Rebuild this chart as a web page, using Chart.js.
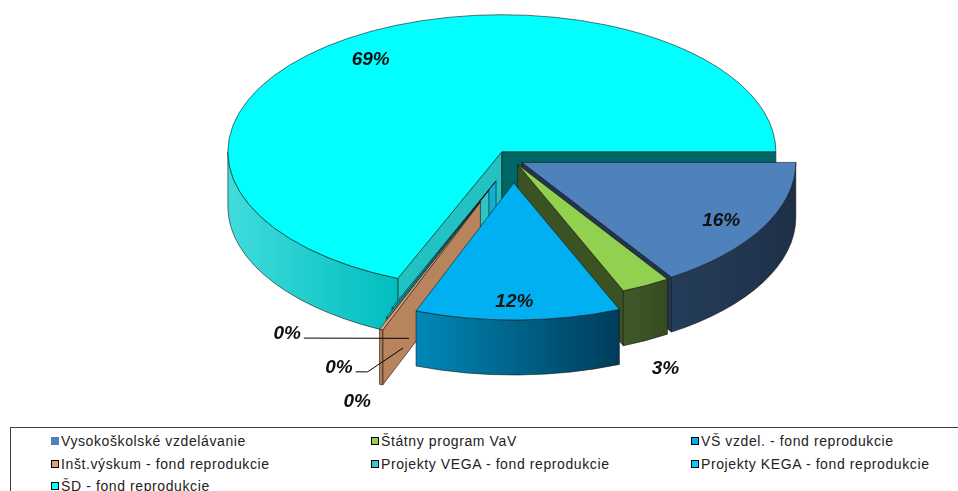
<!DOCTYPE html>
<html>
<head>
<meta charset="utf-8">
<script src="https://cdn.jsdelivr.net/npm/chart.js@4.4.0/dist/chart.umd.min.js"></script>
<style>
body { margin: 0; background: #fff; width: 958px; height: 491px; overflow: hidden; position: relative; font-family: "Liberation Sans", Arial, sans-serif; }
#pie { position: absolute; left: 0; top: 0; }
#legend { position: absolute; left: 10px; top: 427px; width: 970px; height: 80px; border: 1px solid #404040; box-sizing: border-box; }
.item { position: absolute; font-size: 14px; letter-spacing: 0.6px; color: #222; white-space: nowrap; line-height: 16px; }
.item i { display: inline-block; width: 6px; height: 6px; border: 1px solid #000; margin-right: 2px; vertical-align: 1px; }
</style>
</head>
<body>
<canvas id="pie" width="958" height="427"></canvas>
<div id="legend"></div>
<script>
// data
var labels = [
    'Vysokoškolské vzdelávanie',
    'Štátny program VaV',
    'VŠ vzdel. - fond reprodukcie',
    'Inšt.výskum - fond reprodukcie',
    'Projekty VEGA - fond reprodukcie',
    'Projekty KEGA - fond reprodukcie',
    'ŠD - fond reprodukcie'
];
var shares = [15.8, 2.9, 12.1, 0.2, 0.1, 0.1, 68.8];

// look
var topColors = ['#4F81BD', '#92D050', '#00B0F0', '#E8A070', '#33CCCC', '#00CCFF', '#00FFFF'];
var wallLight = ['#253D5A', '#40592A', '#0088B8', '#B8845E', '#2AB8B8', '#00A8C8', '#40DCDC'];
var wallDark = ['#1E3048', '#364C20', '#003C5A', '#A87450', '#229999', '#0088A8', '#00BEBE'];
var startFace = ['#22354C', '#3B5323', '#005A80', '#B8845E', '#2EC4C4', '#12B0D0', '#22C2C2'];
var endFace = ['#22354C', '#3B5323', '#004868', '#B8845E', '#1A9A9A', '#0A90B0', '#006666'];
var explode = [10, 10, 46, 90, 65, 45, 20];
var labelNudge = [[0, 0], [-6, 4], [0, 0], [-4, -8], [-28, -30], [-85, -54], [0, 0]];
var squash = 0.5;
var depth = 55;

function pt(c, a, r) {
    return [c[0] + r * Math.cos(a), c[1] + squash * r * Math.sin(a)];
}

function frontRanges(a1, a2) {
    var out = [];
    [-2 * Math.PI, 0, 2 * Math.PI].forEach(function (b) {
        var s = Math.max(a1, b), t = Math.min(a2, b + Math.PI);
        if (t > s) out.push([s, t]);
    });
    return out;
}

function drawFace(ctx, c, a, R, color) {
    var p = pt(c, a, R);
    ctx.beginPath();
    ctx.moveTo(c[0], c[1]);
    ctx.lineTo(p[0], p[1]);
    ctx.lineTo(p[0], p[1] + depth);
    ctx.lineTo(c[0], c[1] + depth);
    ctx.closePath();
    ctx.fillStyle = color;
    ctx.fill();
    ctx.stroke();
}

var pie3d = {
    id: 'pie3d',
    beforeDatasetsDraw: function (chart) {
        var ctx = chart.ctx;
        var arcs = chart.getDatasetMeta(0).data;
        var slices = arcs.map(function (arc, i) {
            var p = arc.getProps(['x', 'y', 'startAngle', 'endAngle', 'outerRadius']);
            var mid = (p.startAngle + p.endAngle) / 2;
            var c = [p.x + explode[i] * Math.cos(mid), p.y + squash * explode[i] * Math.sin(mid)];
            return { i: i, a1: p.startAngle, a2: p.endAngle, mid: mid, c: c, R: p.outerRadius };
        });
        // back to front
        var order = slices.slice().sort(function (a, b) {
            return (Math.sin(a.mid) + explode[a.i] * 0.0001) - (Math.sin(b.mid) + explode[b.i] * 0.0001);
        });
        ctx.save();
        ctx.lineWidth = 0.7;
        ctx.strokeStyle = 'rgba(20,20,20,0.85)';
        ctx.lineJoin = 'round';
        order.forEach(function (s) {
            var i = s.i, c = s.c, R = s.R;
            // cut faces
            if (Math.cos(s.a1) < 0) drawFace(ctx, c, s.a1, R, startFace[i]);
            if (Math.cos(s.a2) > 0) drawFace(ctx, c, s.a2, R, endFace[i]);
            // outer wall
            frontRanges(s.a1, s.a2).forEach(function (r) {
                var x1 = pt(c, r[1], R)[0], x2 = pt(c, r[0], R)[0];
                var g = ctx.createLinearGradient(Math.min(x1, x2), 0, Math.max(x1, x2) + 0.1, 0);
                g.addColorStop(0, wallLight[i]);
                g.addColorStop(1, wallDark[i]);
                var e = pt(c, r[1], R);
                ctx.beginPath();
                ctx.ellipse(c[0], c[1], R, R * squash, 0, r[0], r[1], false);
                ctx.lineTo(e[0], e[1] + depth);
                ctx.ellipse(c[0], c[1] + depth, R, R * squash, 0, r[1], r[0], true);
                ctx.closePath();
                ctx.fillStyle = g;
                ctx.fill();
                ctx.stroke();
            });
            // top
            var p1 = pt(c, s.a1, R);
            ctx.beginPath();
            ctx.moveTo(c[0], c[1]);
            ctx.lineTo(p1[0], p1[1]);
            ctx.ellipse(c[0], c[1], R, R * squash, 0, s.a1, s.a2, false);
            ctx.closePath();
            ctx.fillStyle = topColors[i];
            ctx.fill();
            ctx.stroke();
        });

        // percentage labels
        var total = shares.reduce(function (a, b) { return a + b; }, 0);
        ctx.font = 'italic bold 19px "Liberation Sans", Arial, sans-serif';
        ctx.textAlign = 'center';
        ctx.textBaseline = 'middle';
        ctx.fillStyle = '#111';
        ctx.strokeStyle = '#000';
        ctx.lineWidth = 1;
        slices.forEach(function (s) {
            var pct = Math.round(shares[s.i] / total * 100);
            var txt = pct + '%';
            var lx, ly;
            if (pct >= 5) {
                var q = pt(s.c, s.mid, s.R * 0.84);
                lx = q[0] - 3; ly = q[1] + 4;
            } else {
                var o = pt(s.c, s.mid, s.R * 1.2);
                lx = o[0] + labelNudge[s.i][0];
                ly = o[1] + depth + labelNudge[s.i][1];
                if (Math.abs(labelNudge[s.i][1]) > 20) {
                    var tip = pt(s.c, s.a1, s.R * 0.85);
                    var w = ctx.measureText(txt).width;
                    ctx.beginPath();
                    ctx.moveTo(lx + w / 2 + 3, ly + 4);
                    ctx.lineTo(Math.min(lx + w / 2 + 15, tip[0]), ly + 4);
                    ctx.lineTo(tip[0], tip[1] + depth * 0.9);
                    ctx.stroke();
                }
            }
            ctx.fillText(txt, lx, ly);
        });
        ctx.restore();
        return false;
    }
};

var chart = new Chart(document.getElementById('pie').getContext('2d'), {
    type: 'pie',
    data: {
        labels: labels,
        datasets: [{
            data: shares,
            backgroundColor: topColors,
            borderWidth: 0
        }]
    },
    options: {
        responsive: false,
        animation: false,
        rotation: 90,
        radius: 274,
        layout: { padding: { left: 68, bottom: 107 } },
        plugins: {
            legend: { display: false },
            tooltip: { enabled: false }
        }
    },
    plugins: [pie3d]
});

// legend in three columns like the original
var legendBox = document.getElementById('legend');
labels.forEach(function (name, i) {
    var el = document.createElement('div');
    el.className = 'item';
    el.style.left = (40 + (i % 3) * 320) + 'px';
    el.style.top = (5 + Math.floor(i / 3) * 22.5) + 'px';
    var sq = document.createElement('i');
    sq.style.background = topColors[i];
    if (i === 0) sq.style.borderColor = topColors[i];
    el.appendChild(sq);
    el.appendChild(document.createTextNode(name));
    legendBox.appendChild(el);
});
</script>
</body>
</html>
